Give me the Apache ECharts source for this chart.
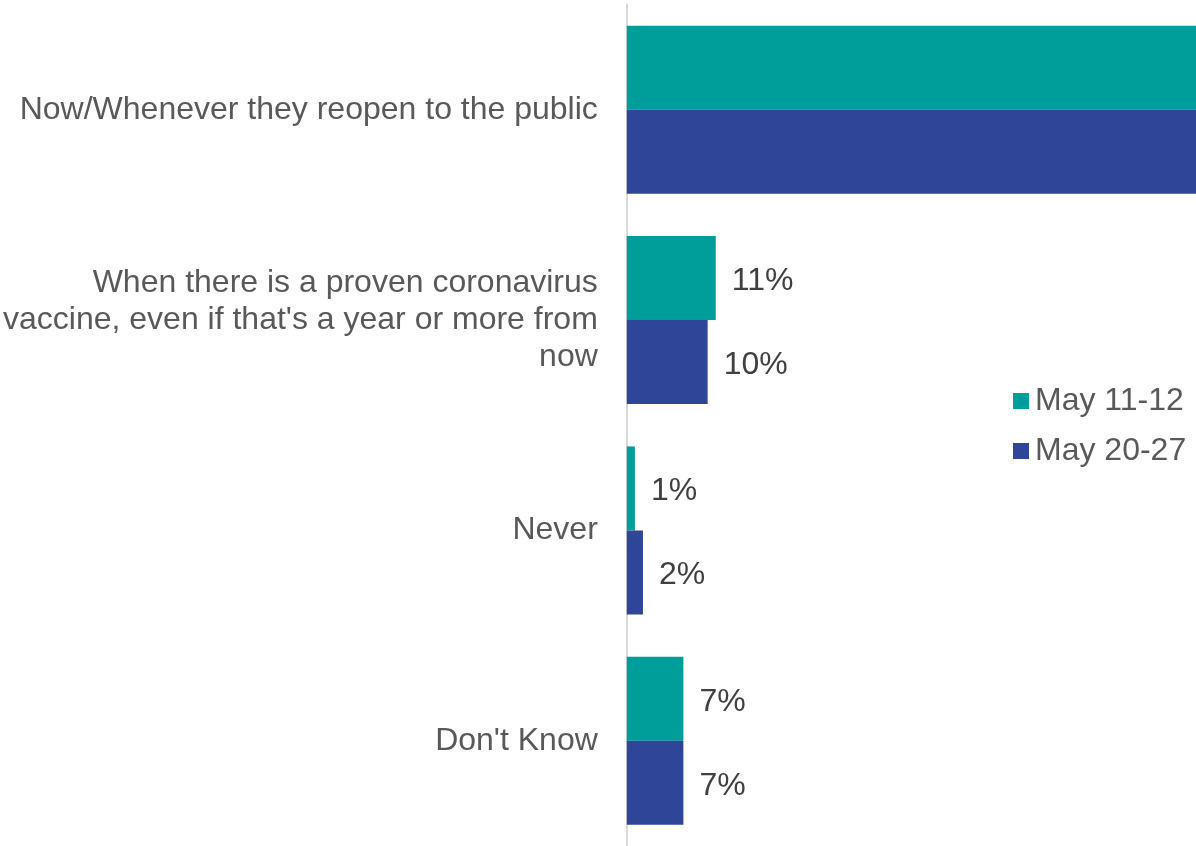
<!DOCTYPE html>
<html>
<head>
<meta charset="utf-8">
<script src="https://cdn.jsdelivr.net/npm/echarts@6/dist/echarts.min.js"></script>
<style>
html,body{margin:0;padding:0;background:#fff;}
#chart{width:1196px;height:846px;}
</style>
</head>
<body>
<div id="chart"></div>
<script>
const categories = [
  "Now/Whenever they reopen to the public",
  "When there is a proven coronavirus\nvaccine, even if that's a year or more from\nnow",
  "Never",
  "Don't Know"
];
const seriesNames = ["May 11-12", "May 20-27"];
const may11_12 = [81, 11, 1, 7];
const may20_27 = [81, 10, 2, 7];

const chart = echarts.init(document.getElementById('chart'));
const labelStyle = {
  show: true,
  position: 'right',
  distance: 16,
  offset: [0, 3],
  fontFamily: 'Liberation Sans, Arial, sans-serif',
  fontSize: 32,
  color: '#404040',
  formatter: '{c}%'
};
chart.setOption({
  animation: false,
  textStyle: { fontFamily: 'Liberation Sans, Arial, sans-serif' },
  grid: { left: 626, right: 0, top: 4.5, height: 845, containLabel: false },
  legend: {
    orient: 'vertical',
    left: 1008,
    top: 380,
    itemWidth: 16,
    itemHeight: 16,
    itemGap: 18,
    icon: 'rect',
    textStyle: { fontSize: 32, color: '#595959', fontFamily: 'Liberation Sans, Arial, sans-serif', padding: [0, 0, 0, 1] },
    data: seriesNames
  },
  xAxis: {
    type: 'value',
    min: 0,
    max: 70.4,
    show: false,
    splitLine: { show: false }
  },
  yAxis: {
    type: 'category',
    inverse: true,
    data: categories,
    axisLine: { show: true, lineStyle: { color: '#D9D9D9', width: 2 } },
    axisTick: { show: false },
    axisLabel: {
      margin: 29,
      fontSize: 32,
      lineHeight: 37,
      color: '#595959',
      align: 'right',
      padding: [6, 0, 0, 0],
      fontFamily: 'Liberation Sans, Arial, sans-serif'
    }
  },
  series: [
    {
      name: seriesNames[0],
      type: 'bar',
      data: may11_12,
      barWidth: 84,
      barGap: '0%',
      clip: true,
      itemStyle: { color: '#009E9A' },
      label: labelStyle
    },
    {
      name: seriesNames[1],
      type: 'bar',
      data: may20_27,
      barWidth: 84,
      barGap: '0%',
      clip: true,
      itemStyle: { color: '#2E4598' },
      label: labelStyle
    }
  ]
});
</script>
</body>
</html>
